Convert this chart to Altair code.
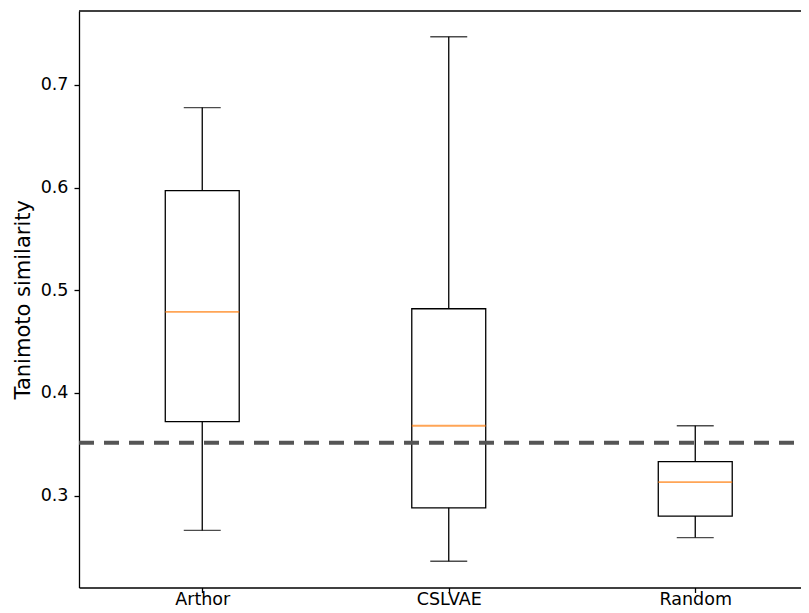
import altair as alt
import pandas as pd

# ---- data ----
categories = ["Arthor", "CSLVAE", "Random"]
whisker_low = [0.266, 0.236, 0.259]
q1 = [0.372, 0.288, 0.280]
median = [0.479, 0.368, 0.313]
q3 = [0.597, 0.482, 0.333]
whisker_high = [0.678, 0.747, 0.368]
reference_line = [0.3515]

y_ticks = [0.3, 0.4, 0.5, 0.6, 0.7]
y_domain = [0.2104, 0.7721]

positions = list(range(1, len(categories) + 1))

df = pd.DataFrame({
    "category": categories,
    "pos": positions,
    "whisker_low": whisker_low,
    "q1": q1,
    "median": median,
    "q3": q3,
    "whisker_high": whisker_high,
})
ref = pd.DataFrame({"value": reference_line})

W = 722        # plot width that still fits the 809px page (right side cropped in reference)
H = 576.5
STEP = 246.5   # px between boxes, as in the reference

xscale = alt.Scale(domain=[0.5, 0.5 + W / STEP], nice=False, zero=False, padding=0)
yscale = alt.Scale(domain=y_domain, nice=False, zero=False, padding=0)

label_expr = "[" + ",".join(f"'{c}'" for c in categories) + "][datum.value - 1]"

x_enc = alt.X("pos:Q", scale=xscale,
              axis=alt.Axis(title=None, values=positions, labelExpr=label_expr,
                            labelAngle=0, labelPadding=-2))


def y_enc(field):
    return alt.Y(f"{field}:Q", scale=yscale,
                 axis=alt.Axis(title="Tanimoto similarity", values=y_ticks,
                               format=".1f", labelPadding=6, titlePadding=7))


BOX_PX = 0.3 * STEP
CAP_PX = 0.15 * STEP

boxes = alt.Chart(df).mark_bar(fill="white", stroke="black", strokeWidth=1.3,
                               size=BOX_PX).encode(
    x=x_enc, y=y_enc("q1"), y2="q3:Q")

whisk_up = alt.Chart(df).mark_rule(color="black", strokeWidth=1.3).encode(
    x=x_enc, y=y_enc("q3"), y2="whisker_high:Q")

whisk_dn = alt.Chart(df).mark_rule(color="black", strokeWidth=1.3).encode(
    x=x_enc, y=y_enc("whisker_low"), y2="q1:Q")

cap_hi = alt.Chart(df).mark_tick(color="black", size=CAP_PX, thickness=1.3,
                                 orient="horizontal").encode(
    x=x_enc, y=y_enc("whisker_high"))

cap_lo = alt.Chart(df).mark_tick(color="black", size=CAP_PX, thickness=1.3,
                                 orient="horizontal").encode(
    x=x_enc, y=y_enc("whisker_low"))

med = alt.Chart(df).mark_tick(color="#ff7f0e", size=BOX_PX, thickness=1.8,
                              orient="horizontal").encode(
    x=x_enc, y=y_enc("median"))

dashed = alt.Chart(ref).mark_rule(color="#555555", strokeWidth=4,
                                  strokeDash=[15, 10]).encode(
    y=y_enc("value"), x=alt.value(0), x2=alt.value(W))

top_spine = alt.Chart(ref).mark_rule(color="black", strokeWidth=1.3).encode(
    y=alt.value(0), x=alt.value(0), x2=alt.value(W))

chart = alt.layer(boxes, whisk_up, whisk_dn, cap_hi, cap_lo, med, dashed, top_spine).properties(
    width=W, height=H,
    autosize=alt.AutoSizeParams(type="none"),
    padding={"left": 71, "top": 3, "right": 0, "bottom": 17.5},
).configure_view(stroke=None).configure_axis(
    grid=False,
    domainColor="black", domainWidth=1.3,
    tickColor="black", tickSize=5, tickWidth=1.3,
    labelFont="DejaVu Sans", labelFontSize=17.5, labelColor="black",
    titleFont="DejaVu Sans", titleFontSize=21, titleColor="black",
    titleFontWeight="normal",
)

chart.save("out.html", embed_options={"renderer": "svg", "actions": False})
